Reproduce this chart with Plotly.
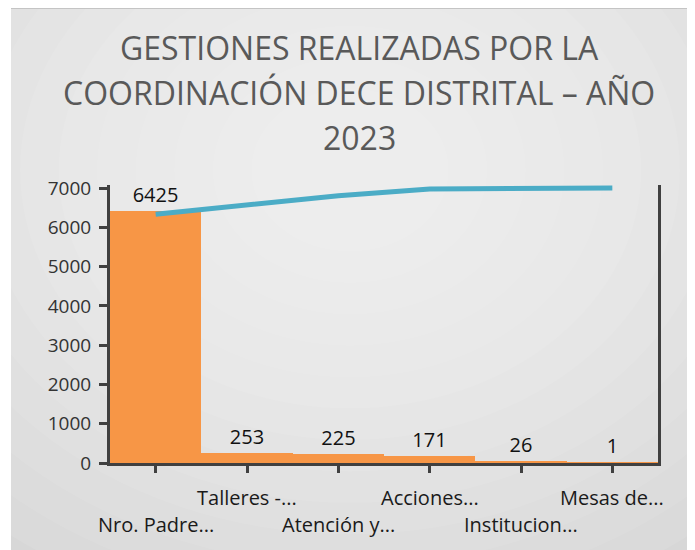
import plotly.graph_objects as go

categories = ["Nro. Padre...", "Talleres -...", "Atención y...", "Acciones...", "Institucion...", "Mesas de..."]
values = [6425, 253, 225, 171, 26, 1]
cum_share = [0.9048, 0.9404, 0.9721, 0.9962, 0.9999, 1.0]
y_ticks = [0, 1000, 2000, 3000, 4000, 5000, 6000, 7000]
title_lines = ["GESTIONES REALIZADAS POR LA", "COORDINACIÓN DECE DISTRITAL – AÑO", "2023"]

W, H = 695, 550
OFF = 8  # page body margin
L, R, T, B = 102, 45, 177, 95
PW, PH = W - L - R, H - T - B
FONT = "Open Sans"
Y_MAX = 7000 * PH / 275.0   # keep 7000 at the same pixel, small headroom for the line
Y2_MAX = Y_MAX / 7000.0


def px(x):
    return (x - OFF - L) / PW


def py(y):
    return (H - B - (y - OFF)) / PH


fig = go.Figure()
fig.add_trace(go.Bar(
    x=categories, y=values, marker=dict(color="#F79646", line=dict(width=0)),
    text=[str(v) for v in values], textposition="outside",
    textfont=dict(family=FONT, size=20, color="#111111"), cliponaxis=False,
    width=1.0, showlegend=False,
))
fig.add_trace(go.Scatter(
    x=categories, y=cum_share, yaxis="y2", mode="lines", cliponaxis=False,
    line=dict(color="#4BACC6", width=5), showlegend=False,
))

shapes = []
shapes.append(dict(type="rect", xref="paper", yref="paper", layer="below",
                   x0=px(11), x1=px(W + 20), y0=py(H + 20), y1=py(8),
                   fillcolor="#d4d4d4", line=dict(width=0)))
cx, cy = 350, 170
n = 14
for i in range(n):
    f = 1 - i / n
    rx, ry = 60 + 540 * f, 50 + 440 * f
    shapes.append(dict(type="circle", xref="paper", yref="paper", layer="below",
                       x0=px(cx - rx), x1=px(cx + rx), y0=py(cy + ry), y1=py(cy - ry),
                       fillcolor="rgba(255,255,255,0.08)", line=dict(width=0)))
shapes.append(dict(type="rect", xref="paper", yref="paper", layer="below",
                   x0=px(-50), x1=px(11), y0=py(H + 50), y1=py(-50),
                   fillcolor="white", line=dict(width=0)))
shapes.append(dict(type="rect", xref="paper", yref="paper", layer="below",
                   x0=px(-50), x1=px(W + 50), y0=py(8), y1=py(-50),
                   fillcolor="white", line=dict(width=0)))
shapes.append(dict(type="line", xref="paper", yref="paper", layer="below",
                   x0=px(11), x1=px(W + 20), y0=py(8.5), y1=py(8.5),
                   line=dict(color="#c4c4c4", width=1)))

annotations = []
for i, t in enumerate(title_lines):
    annotations.append(dict(text=t, xref="paper", yref="paper", x=px(359), y=py(47 + 45 * i),
                            xanchor="center", yanchor="middle", showarrow=False,
                            font=dict(family=FONT, size=32, color="#595959")))
for i, c in enumerate(categories):
    annotations.append(dict(text=c, xref="x", yref="paper", x=c, y=py(497 if i % 2 else 524),
                            xanchor="center", yanchor="middle", showarrow=False,
                            font=dict(family=FONT, size=20, color="#1a1a1a")))

fig.update_layout(
    width=W, height=H, margin=dict(l=L, r=R, t=T, b=B, autoexpand=False),
    paper_bgcolor="white", plot_bgcolor="rgba(0,0,0,0)",
    bargap=0, shapes=shapes, annotations=annotations,
    xaxis=dict(type="category", range=[-0.5, len(categories) - 0.5], showgrid=False,
               showline=True, linecolor="#404040", linewidth=3, ticks="outside",
               ticklen=7, tickwidth=3, tickcolor="#404040", showticklabels=False,
               zeroline=False),
    yaxis=dict(range=[0, Y_MAX], tickvals=y_ticks, showgrid=False, showline=True,
               linecolor="#404040", linewidth=3, ticks="outside", ticklen=8, tickwidth=3,
               tickcolor="#404040", ticklabelstandoff=4,
               tickfont=dict(family=FONT, size=19, color="#333333"), zeroline=False),
    yaxis2=dict(range=[0, Y2_MAX], overlaying="y", side="right", showgrid=False, showline=True,
                linecolor="#404040", linewidth=3, showticklabels=False, ticks="",
                zeroline=False),
)

fig.write_html("out.html")
